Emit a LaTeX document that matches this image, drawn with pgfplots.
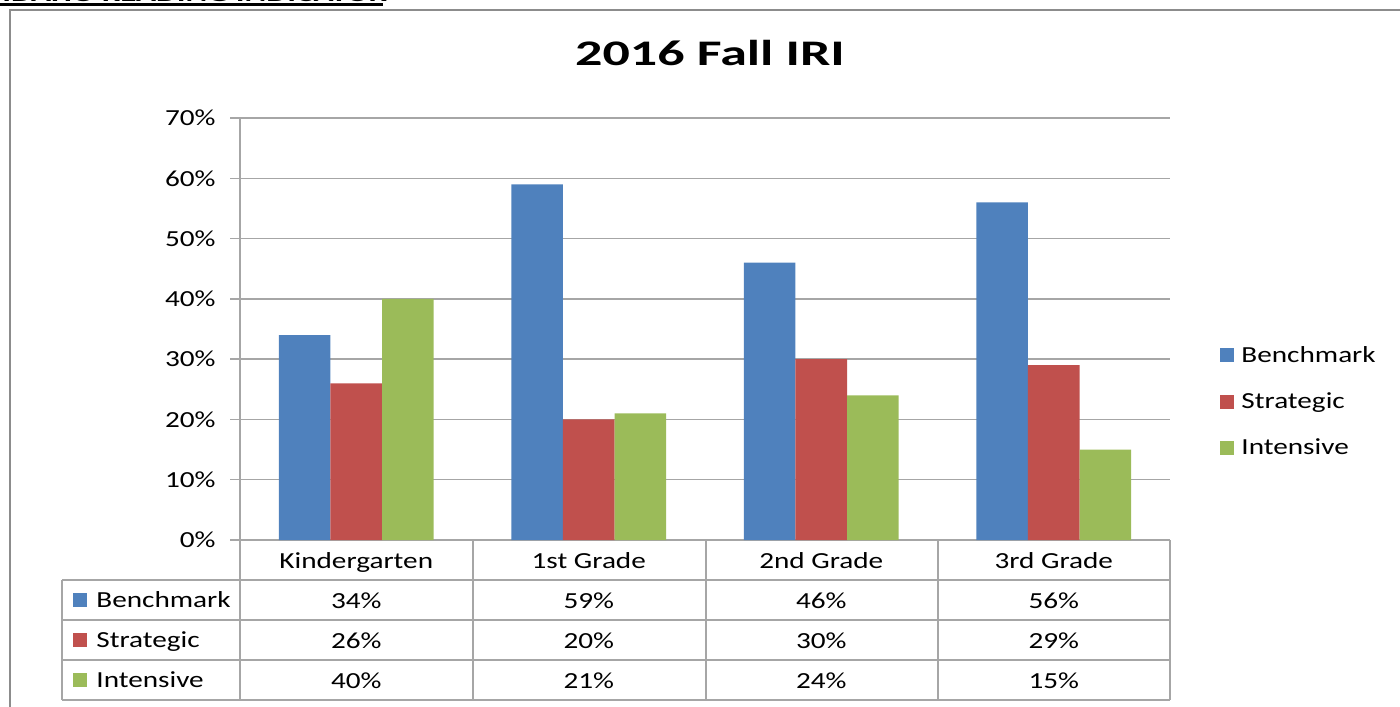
\documentclass[border=0pt]{standalone}
\usepackage{fontspec}
\setmainfont{Carlito}[FakeStretch=1.27]
\newfontfamily\titlefont{Carlito}[FakeStretch=1.5]
\usepackage{pgfplots}
\pgfplotsset{compat=1.18}
\definecolor{bench}{HTML}{4F81BD}
\definecolor{strat}{HTML}{C0504D}
\definecolor{inten}{HTML}{9BBB59}
\definecolor{gridc}{HTML}{A6A6A6}
\definecolor{framec}{HTML}{8C8C8C}
\begin{document}
\begin{tikzpicture}[x=1pt,y=1pt]
\useasboundingbox (0,0) rectangle (700,-353);
\clip (0,0) rectangle (700,-353);
% cut-off header
\node[anchor=base west, inner sep=0, font=\titlefont\bfseries\fontsize{11}{13}\selectfont] at (1,-0.9) {IDAHO READING INDICATOR};
\draw[line width=1.1pt] (0,-2.3) -- (191.5,-2.3);
% frame
\draw[framec, line width=1pt] (5,-360) -- (5,-5) -- (710,-5);
% title
\node[anchor=base, inner sep=0, font=\titlefont\bfseries\fontsize{18}{20}\selectfont] at (355,-33) {2016 Fall IRI};
\begin{axis}[
  at={(120pt,-270pt)}, anchor=south west,
  scale only axis, width=465pt, height=211pt,
  ybar=0pt, bar width=25.8pt,
  xmin=-0.5, xmax=3.5, ymin=0, ymax=70,
  xtick={0,1,2,3},
  xticklabels={{Kindergarten\\34\%\\26\%\\40\%},{1st Grade\\59\%\\20\%\\21\%},{2nd Grade\\46\%\\30\%\\24\%},{3rd Grade\\56\%\\29\%\\15\%}},
  xtick style={draw=none},
  xticklabel style={font=\fontsize{11.5}{20}\selectfont, align=center, anchor=north, inner sep=0pt, yshift=-1pt},
  ytick={0,10,...,70},
  yticklabels={0\%,10\%,20\%,30\%,40\%,50\%,60\%,70\%},
  yticklabel style={font=\fontsize{11.5}{13}\selectfont, xshift=-3.7pt},
  ytick style={gridc, line width=0.75pt},
  tick align=outside, major tick length=5pt,
  ymajorgrids, grid style={gridc, line width=0.75pt},
  axis x line*=bottom, axis y line*=left,
  axis line style={gridc, line width=0.75pt},
  legend style={at={(1.0538,0.327)}, anchor=west, draw=none, fill=none,
    font=\fontsize{11.5}{13}\selectfont, row sep=9.75pt, inner sep=0pt},
  legend cell align=left,
  legend image code/.code={\draw[#1,draw=none] (0pt,-3.3pt) rectangle (7pt,3.7pt);},
  /tikz/every odd column/.append style={column sep=1.5pt},
]
\addplot[fill=bench, draw=none] coordinates {(0,34) (1,59) (2,46) (3,56)};
\addplot[fill=strat, draw=none] coordinates {(0,26) (1,20) (2,30) (3,29)};
\addplot[fill=inten, draw=none] coordinates {(0,40) (1,21) (2,24) (3,15)};
\legend{Benchmark,Strategic,Intensive}
\end{axis}
% data table grid
\begin{scope}[gridc, line width=0.75pt]
\foreach \y in {-290,-310,-330,-350} \draw (31,\y) -- (585,\y);
\foreach \x in {120,236.5,353,469,585} \draw (\x,-270) -- (\x,-350);
\draw (31,-290) -- (31,-350);
\end{scope}
% row headers
\foreach \c/\t [count=\i] in {bench/Benchmark,strat/Strategic,inten/Intensive}{
  \fill[\c] (36.5,{-300-20*(\i-1)-3.3}) rectangle (43.5,{-300-20*(\i-1)+3.7});
  \node[anchor=base west, inner sep=0, font=\fontsize{11.5}{13}\selectfont] at (48,{-303.7-20*(\i-1)}) {\t};
}
\end{tikzpicture}
\end{document}
